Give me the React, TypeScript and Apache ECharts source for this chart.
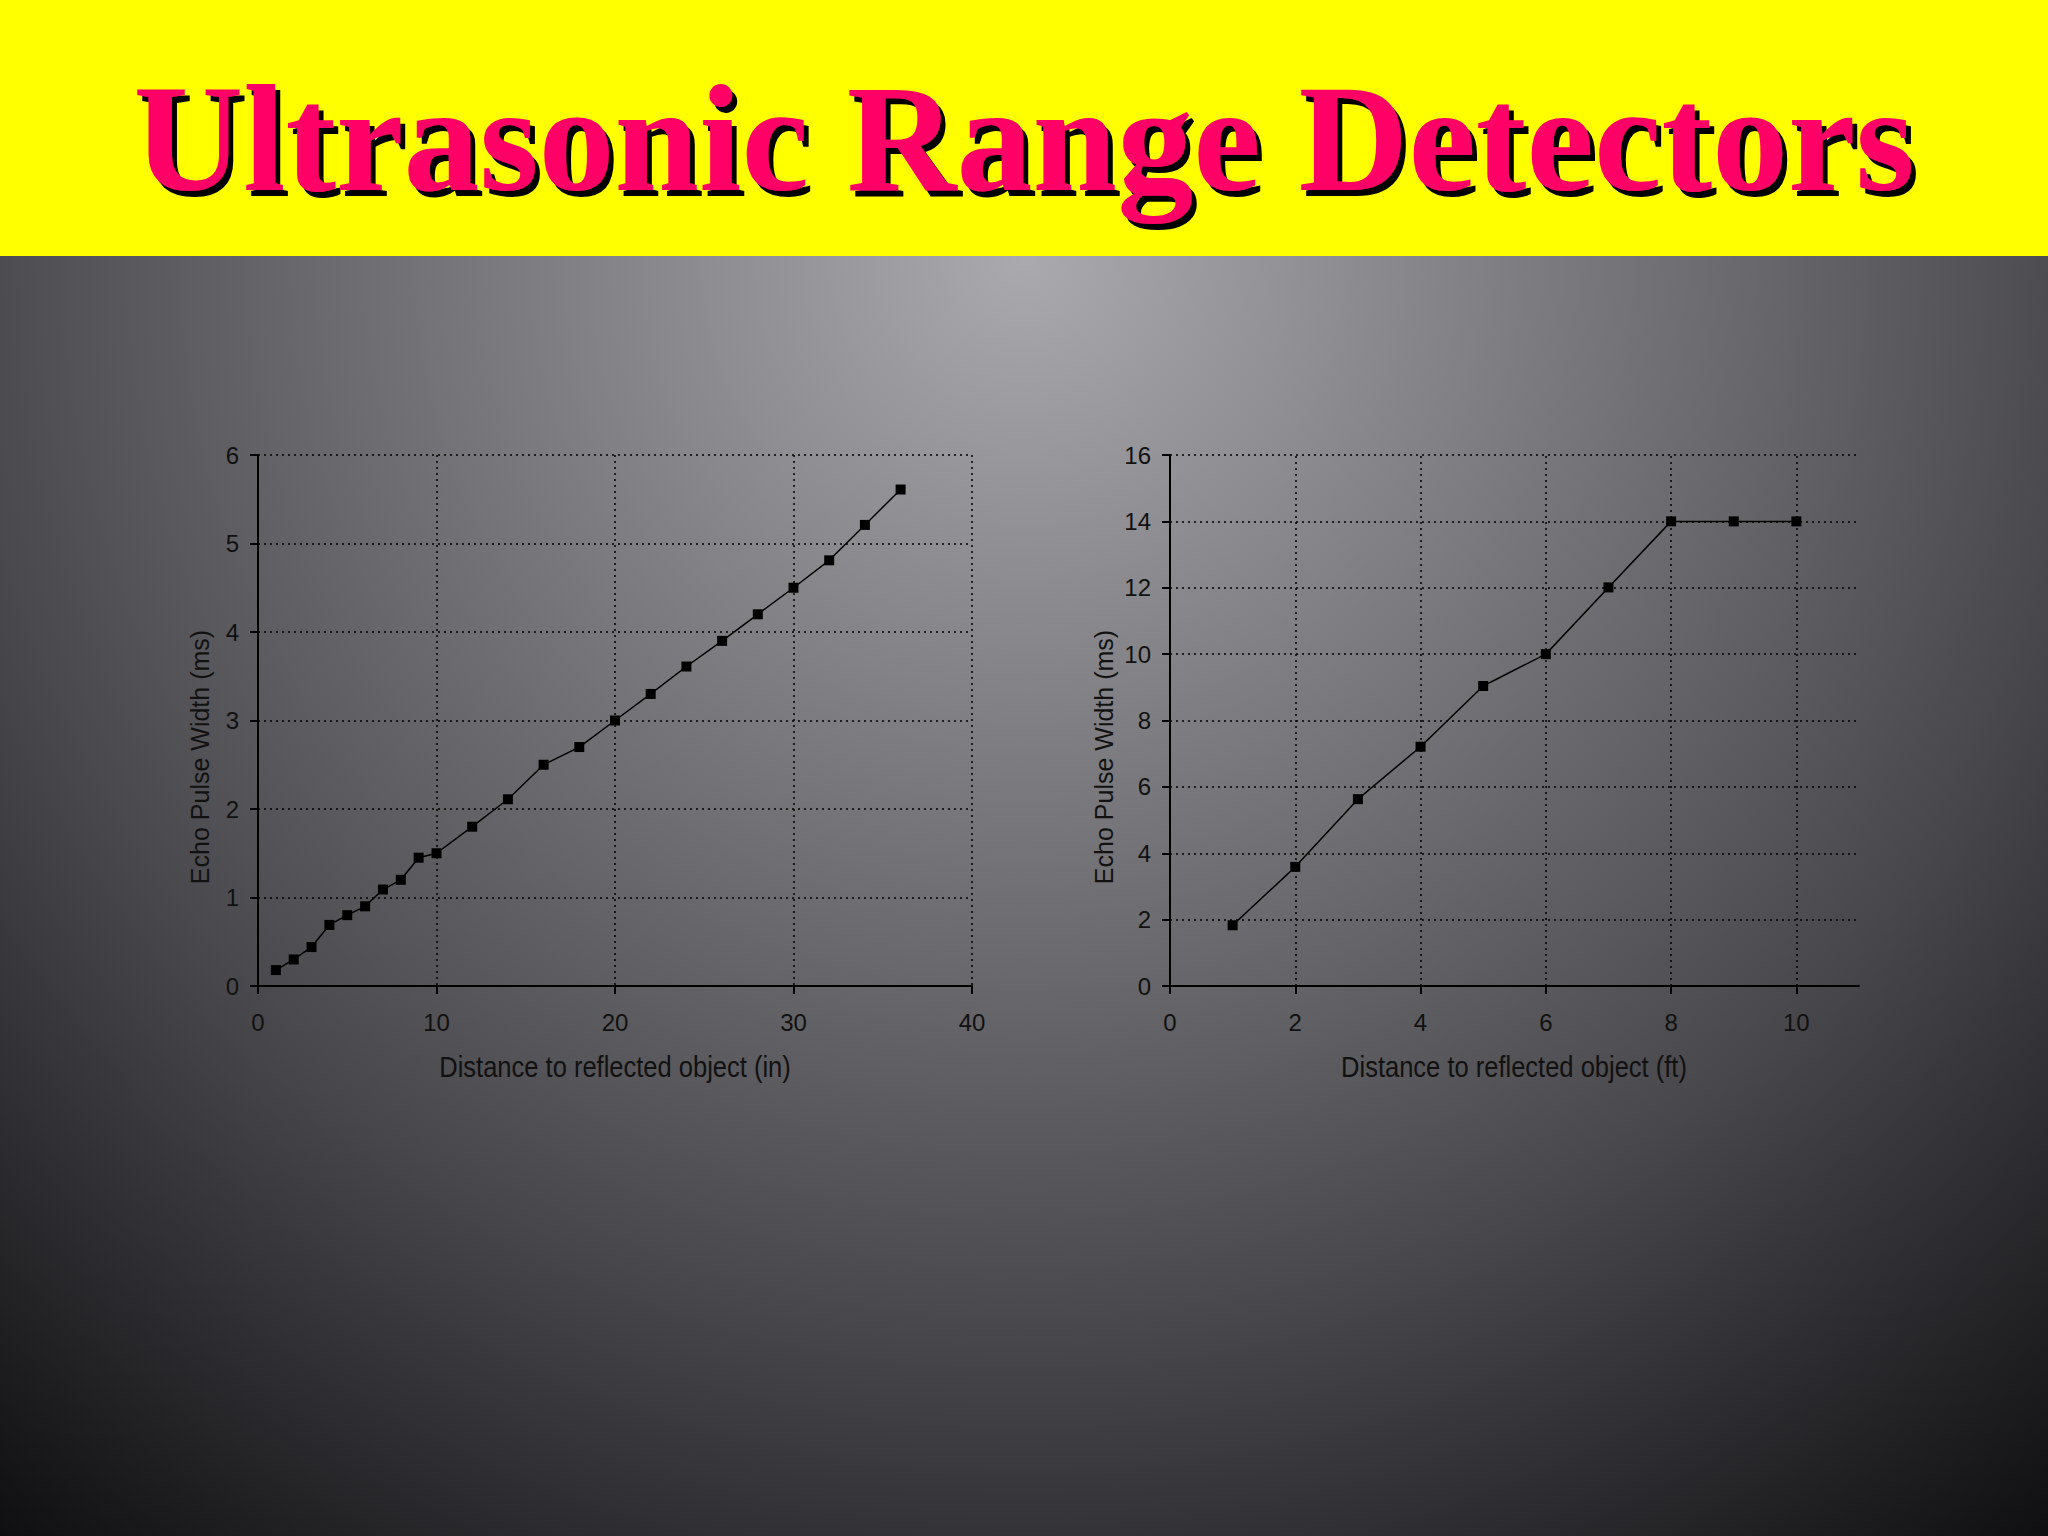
import React, { useEffect, useRef } from "react";
import * as echarts from "echarts";

// ---- Data ----
const titleText = "Ultrasonic Range Detectors";
const yTitle = "Echo Pulse Width (ms)";
const xTitleIn = "Distance to reflected object (in)";
const xTitleFt = "Distance to reflected object (ft)";

const distIn = [1, 2, 3, 4, 5, 6, 7, 8, 9, 10, 12, 14, 16, 18, 20, 22, 24, 26, 28, 30, 32, 34, 36];
const pulseIn = [0.18, 0.3, 0.44, 0.69, 0.8, 0.9, 1.09, 1.2, 1.45, 1.5, 1.8, 2.11, 2.5, 2.7, 3.0, 3.3, 3.61, 3.9, 4.2, 4.5, 4.81, 5.21, 5.61];

const distFt = [1, 2, 3, 4, 5, 6, 7, 8, 9, 10];
const pulseFt = [1.83, 3.59, 5.63, 7.21, 9.04, 10.0, 12.01, 14.0, 14.0, 14.0];

const ftTicks = [0, 2, 4, 6, 8, 10];
const ftGridX = [2, 4, 6, 8, 10];

const SANS = "'Liberation Sans', Arial, sans-serif";
const INK = "#111111";

const gridLine = { type: [2, 4] as any, color: "#000", width: 1.5 };

function axisCommon() {
  return {
    type: "value" as const,
    axisLine: { show: true, onZero: false, lineStyle: { color: "#000", width: 2 } },
    axisTick: { show: true, inside: false, length: 8, lineStyle: { color: "#000", width: 2 } },
    axisLabel: { fontSize: 24, color: INK, fontFamily: SANS },
  };
}

function xTitle(text: string, cx: number) {
  return {
    type: "text",
    z: 10,
    silent: true,
    x: cx,
    y: 1067,
    scaleX: 0.88,
    style: {
      text,
      fill: INK,
      font: "29px " + SANS,
      align: "center",
      verticalAlign: "middle",
    },
  };
}

function yTitleEl(cx: number) {
  return {
    type: "text",
    z: 10,
    silent: true,
    x: cx,
    y: 757,
    rotation: Math.PI / 2,
    style: {
      text: yTitle,
      fill: INK,
      font: "25px " + SANS,
      align: "center",
      verticalAlign: "middle",
    },
  };
}

export default function App() {
  const ref = useRef<HTMLDivElement>(null);

  useEffect(() => {
    document.body.style.margin = "0";
    document.body.style.overflow = "hidden";
    if (!ref.current) return;
    const chart = echarts.init(ref.current, undefined, { renderer: "svg" });

    const option: any = {
      animation: false,
      backgroundColor: "transparent",
      graphic: [
        {
          type: "rect",
          z: -10,
          silent: true,
          shape: { x: 0, y: 256, width: 2048, height: 1280 },
          style: {
            fill: {
              type: "radial",
              x: 1024,
              y: 256,
              r: 1650,
              global: true,
              colorStops: [
                { offset: 0, color: "#aaa9ad" },
                { offset: 0.37, color: "#737276" },
                { offset: 0.66, color: "#47464a" },
                { offset: 0.76, color: "#363539" },
                { offset: 1, color: "#0e0e10" },
              ],
            },
          },
        },
        {
          type: "rect",
          z: -9,
          silent: true,
          shape: { x: 0, y: 0, width: 2048, height: 256 },
          style: { fill: "#ffff00" },
        },
        {
          type: "text",
          z: 11,
          silent: true,
          x: 1024,
          y: 139,
          style: {
            text: titleText,
            fill: "#ff0066",
            font: "bold 152px 'Liberation Serif', 'Times New Roman', serif",
            align: "center",
            verticalAlign: "middle",
            textShadowColor: "#000",
            textShadowBlur: 1,
            textShadowOffsetX: 5,
            textShadowOffsetY: 6,
          },
        },
        yTitleEl(200),
        yTitleEl(1104),
        xTitle(xTitleIn, 615),
        xTitle(xTitleFt, 1514),
      ],
      grid: [
        { left: 258, top: 455, width: 714, height: 531, containLabel: false },
        { left: 1170, top: 455, width: 689, height: 531, containLabel: false },
      ],
      xAxis: [
        {
          ...axisCommon(),
          gridIndex: 0,
          min: 0,
          max: 40,
          interval: 10,
          axisLabel: { ...axisCommon().axisLabel, margin: 24 },
          splitLine: { show: true, lineStyle: gridLine },
        },
        {
          ...axisCommon(),
          gridIndex: 1,
          min: 0,
          max: 11,
          interval: 2,
          axisTick: { ...axisCommon().axisTick, customValues: ftTicks },
          axisLabel: { ...axisCommon().axisLabel, margin: 24, customValues: ftTicks },
          splitLine: { show: false },
        },
      ],
      yAxis: [
        {
          ...axisCommon(),
          gridIndex: 0,
          min: 0,
          max: 6,
          interval: 1,
          axisLabel: { ...axisCommon().axisLabel, margin: 19 },
          splitLine: { show: true, lineStyle: gridLine },
        },
        {
          ...axisCommon(),
          gridIndex: 1,
          min: 0,
          max: 16,
          interval: 2,
          axisLabel: { ...axisCommon().axisLabel, margin: 19 },
          splitLine: { show: true, lineStyle: gridLine },
        },
      ],
      series: [
        {
          type: "line",
          xAxisIndex: 0,
          yAxisIndex: 0,
          data: distIn.map((x, i) => [x, pulseIn[i]]),
          symbol: "rect",
          symbolSize: 10,
          showAllSymbol: true,
          lineStyle: { color: "#000", width: 1.5 },
          itemStyle: { color: "#000" },
          silent: true,
          z: 5,
        },
        {
          type: "line",
          xAxisIndex: 1,
          yAxisIndex: 1,
          data: distFt.map((x, i) => [x, pulseFt[i]]),
          symbol: "rect",
          symbolSize: 10,
          showAllSymbol: true,
          lineStyle: { color: "#000", width: 1.5 },
          itemStyle: { color: "#000" },
          silent: true,
          z: 5,
          markLine: {
            silent: true,
            symbol: ["none", "none"],
            label: { show: false },
            lineStyle: gridLine,
            emphasis: { disabled: true },
            data: ftGridX.map((v) => ({ xAxis: v })),
            z: 1,
          },
        },
      ],
    };

    chart.setOption(option);
    return () => chart.dispose();
  }, []);

  return <div ref={ref} style={{ width: 2048, height: 1536 }} />;
}
